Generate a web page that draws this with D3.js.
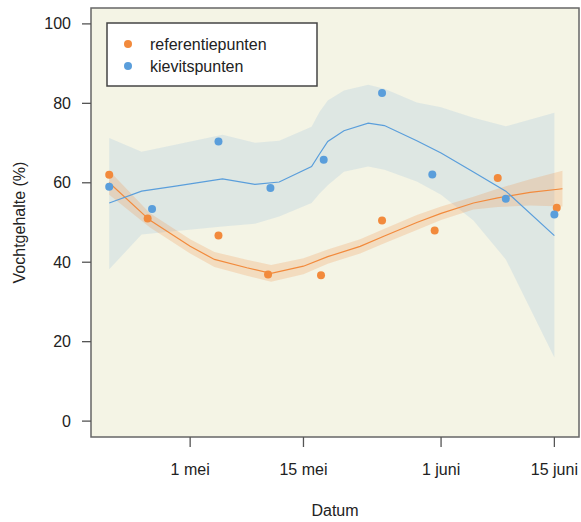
<!DOCTYPE html>
<html>
<head>
<meta charset="utf-8">
<script src="https://cdn.jsdelivr.net/npm/d3@7"></script>
<style>
  body { margin: 0; background: #fff; }
  text { font-family: "Liberation Sans", Arial, Helvetica, sans-serif; fill: #222; }
</style>
</head>
<body>
<svg width="581" height="522"></svg>
<script>
// measured points
const refDates = ["2021-04-21 00:00", "2021-04-25 18:00", "2021-05-04 12:00", "2021-05-10 15:00", "2021-05-17 04:00",
                  "2021-05-24 17:00", "2021-05-31 05:00", "2021-06-08 00:00", "2021-06-15 07:00"];
const refValues = [62.0, 51.0, 46.7, 36.9, 36.7, 50.5, 48.0, 61.2, 53.7];

const kievDates = ["2021-04-21 00:00", "2021-04-26 07:00", "2021-05-04 12:00", "2021-05-10 22:00", "2021-05-17 12:00",
                   "2021-05-24 17:00", "2021-05-30 22:00", "2021-06-09 00:00", "2021-06-15 00:00"];
const kievValues = [59.0, 53.4, 70.4, 58.7, 65.8, 82.6, 62.1, 56.0, 52.0];

// smoothed fit + confidence band
const refFitDates = ["2021-04-21", "2021-04-26", "2021-05-01", "2021-05-04", "2021-05-08", "2021-05-11", "2021-05-15", "2021-05-18",
                     "2021-05-22", "2021-05-25", "2021-05-29", "2021-06-01", "2021-06-05", "2021-06-08", "2021-06-12", "2021-06-16"];
const refFit   = [60.0, 50.6, 44.0, 40.7, 38.6, 37.2, 39.0, 41.4, 44.0, 46.6, 50.0, 52.3, 54.9, 56.2, 57.6, 58.5];
const refLower = [57.0, 48.8, 42.2, 38.8, 36.6, 35.1, 37.0, 39.6, 42.2, 44.8, 48.1, 50.6, 53.3, 53.9, 54.3, 54.0];
const refUpper = [63.0, 52.4, 45.8, 42.6, 40.6, 39.3, 41.0, 43.2, 45.8, 48.4, 51.9, 54.0, 56.5, 58.5, 60.9, 63.0];

const kievFitDates = ["2021-04-21", "2021-04-25", "2021-04-29", "2021-05-05", "2021-05-09", "2021-05-12", "2021-05-16", "2021-05-17",
                      "2021-05-18", "2021-05-20", "2021-05-23", "2021-05-25", "2021-05-29", "2021-06-01", "2021-06-05", "2021-06-09", "2021-06-15"];
const kievFit   = [54.9, 57.9, 59.1, 61.0, 59.6, 60.2, 64.1, 67.3, 70.4, 73.1, 75.0, 74.4, 70.6, 67.5, 62.7, 57.9, 46.7];
const kievUpper = [71.3, 67.8, 69.5, 72.1, 70.1, 70.6, 74.1, 77.9, 80.7, 83.2, 84.7, 83.7, 80.2, 79.0, 76.4, 74.2, 77.6];
const kievLower = [38.2, 47.0, 47.8, 49.0, 49.7, 51.5, 54.9, 57.3, 59.4, 62.8, 64.1, 63.3, 60.3, 57.0, 50.5, 40.7, 16.0];

const yTicks = [0, 20, 40, 60, 80, 100];
const xTickDates = ["2021-05-01", "2021-05-15", "2021-06-01", "2021-06-15"];
const xTickLabels = ["1 mei", "15 mei", "1 juni", "15 juni"];
const seriesNames = ["referentiepunten", "kievitspunten"];

const orange = "#f28a3c", blue = "#5a9edb";

const parseT = d3.timeParse("%Y-%m-%d %H:%M");
const parseD = d3.timeParse("%Y-%m-%d");

let svg = d3.select("svg");
const pLeft = 91, pRight = 579, pTop = 8, pBottom = 437;

let x = d3.scaleTime()
  .domain([parseT("2021-04-18 18:00"), parseT("2021-06-18 01:00")])
  .range([pLeft, pRight]);
let y = d3.scaleLinear().domain([-4, 104]).range([pBottom, pTop]);

// panel
svg.append("rect").attr("x", pLeft).attr("y", pTop)
  .attr("width", pRight - pLeft).attr("height", pBottom - pTop)
  .attr("fill", "#f4f4e5");

function rows(dates, fit, lo, hi) {
  return dates.map((d, i) => ({ date: parseD(d), fit: fit[i], lo: lo[i], hi: hi[i] }));
}
let refRows = rows(refFitDates, refFit, refLower, refUpper);
let kievRows = rows(kievFitDates, kievFit, kievLower, kievUpper);

let band = d3.area()
  .x(d => x(d.date)).y0(d => y(d.lo)).y1(d => y(d.hi));
let line = d3.line()
  .x(d => x(d.date)).y(d => y(d.fit));

let g = svg.append("g");
g.append("path").datum(kievRows).attr("d", band)
  .attr("fill", blue).attr("fill-opacity", 0.14);
g.append("path").datum(refRows).attr("d", band)
  .attr("fill", orange).attr("fill-opacity", 0.22);
g.append("path").datum(refRows).attr("d", line)
  .attr("fill", "none").attr("stroke", orange).attr("stroke-width", 1.2);
g.append("path").datum(kievRows).attr("d", line)
  .attr("fill", "none").attr("stroke", blue).attr("stroke-width", 1.2);

g.selectAll(".ref").data(refDates).join("circle")
  .attr("class", "ref")
  .attr("cx", d => x(parseT(d))).attr("cy", (d, i) => y(refValues[i]))
  .attr("r", 4).attr("fill", orange);
g.selectAll(".kiev").data(kievDates).join("circle")
  .attr("class", "kiev")
  .attr("cx", d => x(parseT(d))).attr("cy", (d, i) => y(kievValues[i]))
  .attr("r", 4).attr("fill", blue);

// frame
svg.append("rect").attr("x", pLeft).attr("y", pTop)
  .attr("width", pRight - pLeft).attr("height", pBottom - pTop)
  .attr("fill", "none").attr("stroke", "#666").attr("stroke-width", 1.5);

// y axis
let yAxis = svg.append("g");
yAxis.selectAll("line").data(yTicks).join("line")
  .attr("x1", 82).attr("x2", pLeft).attr("y1", d => y(d)).attr("y2", d => y(d))
  .attr("stroke", "#555").attr("stroke-width", 1.3);
yAxis.selectAll("text").data(yTicks).join("text")
  .attr("x", 71).attr("y", d => y(d)).attr("dy", "0.35em")
  .attr("text-anchor", "end").attr("font-size", 16)
  .text(d => d);

// x axis
let xAxis = svg.append("g");
xAxis.selectAll("line").data(xTickDates).join("line")
  .attr("x1", d => x(parseD(d))).attr("x2", d => x(parseD(d)))
  .attr("y1", pBottom).attr("y2", 447)
  .attr("stroke", "#555").attr("stroke-width", 1.3);
xAxis.selectAll("text").data(xTickDates).join("text")
  .attr("x", d => x(parseD(d))).attr("y", 475)
  .attr("text-anchor", "middle").attr("font-size", 16)
  .text((d, i) => xTickLabels[i]);

svg.append("text").attr("x", (pLeft + pRight) / 2).attr("y", 516)
  .attr("text-anchor", "middle").attr("font-size", 16).text("Datum");
svg.append("text")
  .attr("transform", `translate(25,${(pTop + pBottom) / 2}) rotate(-90)`)
  .attr("text-anchor", "middle").attr("font-size", 16).text("Vochtgehalte (%)");

// legend
let lg = svg.append("g");
lg.append("rect").attr("x", 107).attr("y", 23).attr("width", 210).attr("height", 63)
  .attr("fill", "#fff").attr("stroke", "#444").attr("stroke-width", 1.5);
lg.selectAll("circle").data(seriesNames).join("circle")
  .attr("cx", 128).attr("cy", (d, i) => 44 + i * 22)
  .attr("r", 4).attr("fill", (d, i) => i ? blue : orange);
lg.selectAll("text").data(seriesNames).join("text")
  .attr("x", 150).attr("y", (d, i) => 44 + i * 22).attr("dy", "0.35em")
  .attr("font-size", 16).text(d => d);
</script>
</body>
</html>
